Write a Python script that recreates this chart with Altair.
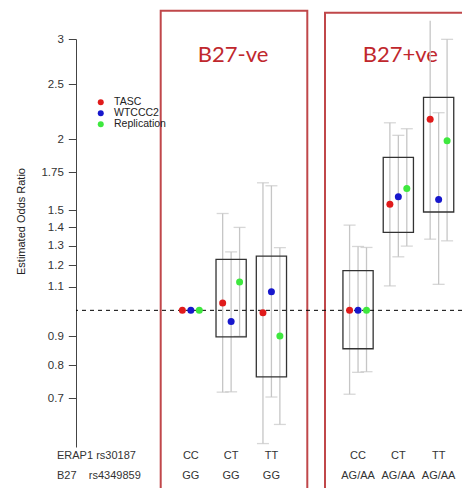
import altair as alt
import pandas as pd

# ---------------- data ----------------
groups = ["CC-ve", "CT-ve", "TT-ve", "CC+ve", "CT+ve", "TT+ve"]
group_pos = [1, 2, 3, 5.15, 6.15, 7.15]
erap1_geno = ["CC", "CT", "TT", "CC", "CT", "TT"]
b27_geno = ["GG", "GG", "GG", "AG/AA", "AG/AA", "AG/AA"]
panels = ["B27-ve", "B27+ve"]
panel_of_group = ["B27-ve", "B27-ve", "B27-ve", "B27+ve", "B27+ve", "B27+ve"]

series = ["TASC", "WTCCC2", "Replication"]
series_colors = ["#e01b1b", "#1717cc", "#3ee83e"]

tasc_or = [1.0, 1.03, 0.99, 1.0, 1.537, 2.167]
tasc_lo = [None, 0.718, 0.583, 0.712, 1.104, 1.334]
tasc_hi = [None, 1.48, 1.676, 1.412, 2.137, 3.23]

wtccc_or = [1.0, 0.956, 1.078, 1.0, 1.584, 1.567]
wtccc_lo = [None, 0.719, 0.704, 0.778, 1.242, 1.111]
wtccc_hi = [None, 1.267, 1.656, 1.295, 2.031, 2.226]

repl_or = [1.0, 1.122, 0.901, 1.0, 1.638, 1.987]
repl_lo = [None, 0.90, 0.630, 0.780, 1.297, 1.325]
repl_hi = [None, 1.399, 1.289, 1.290, 2.086, 2.996]

# combined estimate range (boxes)
box_lo = [None, 0.898, 0.764, 0.856, 1.371, 1.489]
box_hi = [None, 1.229, 1.245, 1.174, 1.858, 2.369]

# upper interval running off the top of the plot (drawn without a cap)
open_upper = [("TT+ve", "TASC")]

y_ticks = [0.7, 0.8, 0.9, 1.1, 1.2, 1.3, 1.4, 1.5, 1.75, 2, 2.5, 3]

# ---------------- tables ----------------
offsets = [-0.21, 0.0, 0.21]
rows = []
for s, off, ors, los, his in zip(series, offsets,
                                 [tasc_or, wtccc_or, repl_or],
                                 [tasc_lo, wtccc_lo, repl_lo],
                                 [tasc_hi, wtccc_hi, repl_hi]):
    for g, p, o, lo, hi in zip(groups, group_pos, ors, los, his):
        rows.append({"group": g, "series": s, "x": p + off, "or": o,
                     "lo": lo, "hi": hi})
pts = pd.DataFrame(rows)
ci = pts.dropna(subset=["lo", "hi"])

caps = []
for _, r in ci.iterrows():
    caps.append({"x": r["x"], "y": r["lo"]})
    if (r["group"], r["series"]) not in open_upper:
        caps.append({"x": r["x"], "y": r["hi"]})
caps = pd.DataFrame(caps)

boxes = pd.DataFrame({"group": groups, "pos": group_pos, "lo": box_lo, "hi": box_hi}).dropna()
boxes["x1"] = boxes["pos"] - 0.375
boxes["x2"] = boxes["pos"] + 0.375

labels = pd.DataFrame({"pos": group_pos, "erap1": erap1_geno, "b27": b27_geno})
ptitles = pd.DataFrame({"panel": panels,
                        "pos": [sum(p for p, q in zip(group_pos, panel_of_group) if q == pn) / 3
                                for pn in panels]})

# ---------------- scales ----------------
xs = alt.Scale(domain=[-1.85, 7.73], nice=False, zero=False)
ys = alt.Scale(type="log", domain=[0.575, 3.0], nice=False, zero=False)
GRAY = "#c6c6c6"
FONT = "Liberation Sans"

yaxis = alt.Axis(values=y_ticks, format="~g", title="Estimated Odds Ratio",
                 grid=False, tickSize=7.7, tickColor="#444", domainColor="#444",
                 labelColor="#333", labelFont=FONT, labelFontSize=11.5,
                 labelPadding=5, labelOverlap=False, labelFlush=False,
                 titleFont=FONT, titleFontSize=11, titleFontWeight="normal",
                 titleColor="#222", titleX=-55, titleY=182,
                 titleAlign="center", titleBaseline="middle")


def Y(field):
    return alt.Y(field, scale=ys, axis=yaxis, title="Estimated Odds Ratio")


# panel frames
frame1 = alt.Chart(alt.Data(values=[{}])).mark_rect(
    fill=None, stroke="#c0474a", strokeWidth=2).encode(
    x=alt.value(84.7), x2=alt.value(231.3), y=alt.value(-28.3), y2=alt.value(520))
frame2 = alt.Chart(alt.Data(values=[{}])).mark_rect(
    fill=None, stroke="#c0474a", strokeWidth=2).encode(
    x=alt.value(249), x2=alt.value(420), y=alt.value(-26.3), y2=alt.value(520))

ptitle = alt.Chart(ptitles).mark_text(
    font="Lato", fontSize=22, color="#c0272d", baseline="alphabetic", dx=2).encode(
    x=alt.X("pos:Q", scale=xs, axis=None), y=alt.value(22.7), text="panel:N")

whisk = alt.Chart(ci).mark_rule(color=GRAY, strokeWidth=1.3).encode(
    x=alt.X("x:Q", scale=xs, axis=None),
    y=Y("lo:Q"), y2="hi:Q")

capm = alt.Chart(caps).mark_tick(orient="horizontal", size=12, thickness=1.3, color=GRAY).encode(
    x=alt.X("x:Q", scale=xs, axis=None),
    y=Y("y:Q"))

boxm = alt.Chart(boxes).mark_rect(fill=None, stroke="#333333", strokeWidth=1.3).encode(
    x=alt.X("x1:Q", scale=xs, axis=None), x2="x2:Q",
    y=Y("lo:Q"), y2="hi:Q")

refline = alt.Chart(pd.DataFrame({"or": [1.0]})).mark_rule(
    color="black", strokeWidth=1, strokeDash=[4, 4]).encode(
    y=Y("or:Q"))

points = alt.Chart(pts).mark_point(filled=True, size=49, opacity=1, shape="circle").encode(
    x=alt.X("x:Q", scale=xs, axis=None),
    y=Y("or:Q"),
    color=alt.Color("series:N", scale=alt.Scale(domain=series, range=series_colors),
                    legend=alt.Legend(title=None, orient="none", legendX=19.5, legendY=58,
                                      padding=0, rowPadding=0, symbolSize=36,
                                      symbolType="circle", symbolStrokeWidth=0,
                                      labelFont=FONT, labelFontSize=10.5, labelColor="#222",
                                      labelOffset=8)))

lab1 = alt.Chart(labels).mark_text(font=FONT, fontSize=11, color="#333", baseline="middle").encode(
    x=alt.X("pos:Q", scale=xs, axis=None), y=alt.value(417), text="erap1:N")
lab2 = alt.Chart(labels).mark_text(font=FONT, fontSize=11, color="#333", baseline="middle").encode(
    x=alt.X("pos:Q", scale=xs, axis=None), y=alt.value(437), text="b27:N")
head1 = alt.Chart(alt.Data(values=[{}])).mark_text(
    font=FONT, fontSize=11, color="#333", baseline="middle", align="left",
    text="ERAP1 rs30187").encode(x=alt.value(-19), y=alt.value(417))
head2 = alt.Chart(alt.Data(values=[{}])).mark_text(
    font=FONT, fontSize=11, color="#333", baseline="middle", align="left",
    text="B27\u00a0\u00a0\u00a0\u00a0rs4349859").encode(x=alt.value(-19), y=alt.value(437))

chart = alt.layer(frame1, frame2, ptitle, whisk, capm, boxm, refline, points,
                  lab1, lab2, head1, head2).properties(
    width=386, height=408, autosize="none",
    padding={"left": 76, "top": 39, "right": 0, "bottom": 41},
    background="white",
).configure_view(stroke=None)

chart.save("out.html", embed_options={"renderer": "svg", "actions": False})
